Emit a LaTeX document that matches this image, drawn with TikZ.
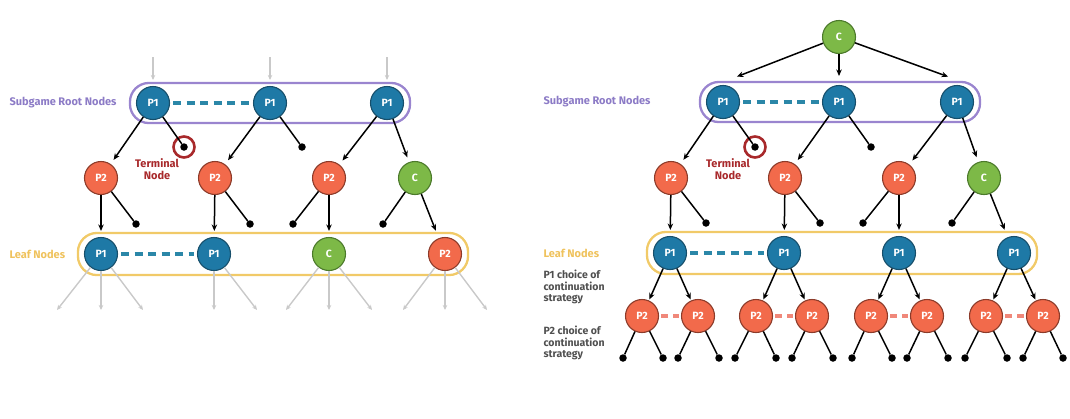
\documentclass[tikz,border=0pt]{standalone}
\usepackage{fontspec}
\setmainfont{Fira Sans}
\usetikzlibrary{arrows.meta,fit,backgrounds}
\definecolor{ponefill}{HTML}{1E79A6}
\definecolor{ponedraw}{HTML}{174F6B}
\definecolor{ptwofill}{HTML}{F26A4B}
\definecolor{ptwodraw}{HTML}{8C3B2A}
\definecolor{chfill}{HTML}{7DB947}
\definecolor{chdraw}{HTML}{4C7A2B}
\definecolor{purp}{HTML}{9A85CF}
\definecolor{purptext}{HTML}{8C7BC6}
\definecolor{yell}{HTML}{F1CA68}
\definecolor{yelltext}{HTML}{EFC25C}
\definecolor{termred}{HTML}{A8292B}
\definecolor{tealdash}{HTML}{2B87A8}
\definecolor{orgdash}{HTML}{F0887A}
\definecolor{greyarr}{HTML}{C9C9C9}
\definecolor{infotext}{HTML}{4F4F4F}
\tikzset{
  gnode/.style={circle, line width=1.1pt, minimum size=33pt, inner sep=0pt, text=white, font=\bfseries\fontsize{10.5}{11}\selectfont},
  pone/.style={gnode, fill=ponefill, draw=ponedraw},
  ptwo/.style={gnode, fill=ptwofill, draw=ptwodraw},
  chance/.style={gnode, fill=chfill, draw=chdraw},
  tdot/.style={circle, fill=black, inner sep=0pt, minimum size=7.5pt},
  termring/.style={circle, draw=termred, line width=2.6pt, minimum size=21pt, inner sep=0pt},
  arr/.style={line width=1.5pt, -{Stealth[length=6.5pt,width=5.5pt]}, shorten >=5pt},
  arrn/.style={line width=1.5pt, -{Stealth[length=6.5pt,width=5.5pt]}, shorten >=1pt},
  lne/.style={line width=1.5pt},
  garr/.style={line width=1.4pt, greyarr, -{Stealth[length=5pt,width=4.5pt]}},
  tdash/.style={line width=3.6pt, tealdash, dash pattern=on 8pt off 5.5pt, shorten <=3pt, shorten >=3pt},
  odash/.style={line width=3.6pt, orgdash, dash pattern=on 7pt off 5pt, shorten <=2pt, shorten >=2pt},
  rootbox/.style={draw=purp, line width=2.3pt, rounded corners=19pt, inner xsep=6pt, inner ysep=3pt},
  leafbox/.style={draw=yell, line width=2.3pt, rounded corners=19pt, inner xsep=6pt, inner ysep=4pt},
  rootlbl/.style={anchor=west, text=purptext, font=\bfseries\fontsize{11}{13}\selectfont},
  leaflbl/.style={anchor=west, text=yelltext, font=\bfseries\fontsize{11}{13}\selectfont},
  termlbl/.style={align=center, text=termred, font=\bfseries\fontsize{11}{11.5}\selectfont},
  infolbl/.style={anchor=west, align=left, text=infotext, font=\bfseries\fontsize{10.5}{11.5}\selectfont}
}
\begin{document}
\begin{tikzpicture}[x=1pt,y=-1pt]
\useasboundingbox (0,0) rectangle (1070,418);

% ================= LEFT =================
\node[pone] (La1) at (153,103) {P1};
\node[pone] (La2) at (270,103) {P1};
\node[pone] (La3) at (387,103) {P1};
\coordinate (Lu1) at (153,57);
\coordinate (Lu2) at (270,57);
\coordinate (Lu3) at (387,57);
\draw[garr, shorten >=6pt] (Lu1) -- (La1);
\draw[garr, shorten >=6pt] (Lu2) -- (La2);
\draw[garr, shorten >=6pt] (Lu3) -- (La3);

\node[ptwo] (Lb1) at (101,178) {P2};
\node[ptwo] (Lb2) at (215,178) {P2};
\node[ptwo] (Lb3) at (329,178) {P2};
\node[chance] (Lb4) at (415,178) {C};
\node[tdot] (Lt1) at (184,147) {};
\node[termring] (Lr) at (184,147) {};
\node[tdot] (Lt2) at (302,147) {};

\node[tdot] (Ld1) at (136,224) {};
\node[tdot] (Ld2) at (250,224) {};
\node[tdot] (Ld3) at (293,224) {};
\node[tdot] (Ld4) at (383,224) {};

\node[pone] (Lc1) at (101,254) {P1};
\node[pone] (Lc2) at (214,254) {P1};
\node[chance] (Lc3) at (329,254) {C};
\node[ptwo] (Lc4) at (445,254) {P2};

\begin{scope}[on background layer]
\node[rootbox, fit=(La1)(La3)] (Lroot) {};
\node[leafbox, fit=(Lc1)(Lc4)] (Lleaf) {};
\end{scope}

\draw[tdash] (La1) -- (La2);
\draw[tdash] (Lc1) -- (Lc2);

\draw[arr] (La1) -- (Lb1);
\draw[lne] (La1) -- (Lt1);
\draw[arr] (La2) -- (Lb2);
\draw[lne] (La2) -- (Lt2);
\draw[arr] (La3) -- (Lb3);
\draw[arr] (La3) -- (Lb4);

\draw[arr, shorten >=6pt] (Lb1) -- (Lc1);
\draw[lne] (Lb1) -- (Ld1);
\draw[arr, shorten >=6pt] (Lb2) -- (Lc2);
\draw[lne] (Lb2) -- (Ld2);
\draw[lne] (Lb3) -- (Ld3);
\draw[arr, shorten >=6pt] (Lb3) -- (Lc3);
\draw[lne] (Lb4) -- (Ld4);
\draw[arr, shorten >=8pt] (Lb4) -- (Lc4);

\coordinate (Lg1) at (57,310);
\coordinate (Lg2) at (101,310);
\coordinate (Lg3) at (143,310);
\coordinate (Lg4) at (214,310);
\coordinate (Lg5) at (257,310);
\coordinate (Lg6) at (286,310);
\coordinate (Lg7) at (329,310);
\coordinate (Lg8) at (372,310);
\coordinate (Lg9) at (403,310);
\coordinate (Lg10) at (445,310);
\coordinate (Lg11) at (487,310);
\draw[garr] (Lc1) -- (Lg1);
\draw[garr] (Lc1) -- (Lg2);
\draw[garr] (Lc1) -- (Lg3);
\draw[garr] (Lc2) -- (Lg4);
\draw[garr] (Lc2) -- (Lg5);
\draw[garr] (Lc3) -- (Lg6);
\draw[garr] (Lc3) -- (Lg7);
\draw[garr] (Lc3) -- (Lg8);
\draw[garr] (Lc4) -- (Lg9);
\draw[garr] (Lc4) -- (Lg10);
\draw[garr] (Lc4) -- (Lg11);

\node[rootlbl] (Llab1) at (6,103) {Subgame Root Nodes};
\node[leaflbl] (Llab2) at (6,254) {Leaf Nodes};
\node[termlbl] (Llab3) at (157,169) {Terminal\\Node};

% ================= RIGHT =================
\node[chance] (Rtop) at (839,37) {C};
\coordinate (Rk1) at (736,77);
\coordinate (Rk2) at (839,77);
\coordinate (Rk3) at (949,77);
\draw[arrn] (Rtop) -- (Rk1);
\draw[arrn] (Rtop) -- (Rk2);
\draw[arrn] (Rtop) -- (Rk3);

\node[pone] (Ra1) at (723,102) {P1};
\node[pone] (Ra2) at (839,102) {P1};
\node[pone] (Ra3) at (957,102) {P1};

\node[tdot] (Rt1) at (755,147) {};
\node[termring] (Rr) at (755,147) {};
\node[tdot] (Rt2) at (871,147) {};

\node[ptwo] (Rb1) at (671,178) {P2};
\node[ptwo] (Rb2) at (785,178) {P2};
\node[ptwo] (Rb3) at (899,178) {P2};
\node[chance] (Rb4) at (984,178) {C};

\node[tdot] (Rd1) at (706,223) {};
\node[tdot] (Rd2) at (820,223) {};
\node[tdot] (Rd3) at (863,223) {};
\node[tdot] (Rd4) at (952,223) {};

\node[pone] (Rc1) at (670,253) {P1};
\node[pone] (Rc2) at (784,253) {P1};
\node[pone] (Rc3) at (899,253) {P1};
\node[pone] (Rc4) at (1014,253) {P1};

\begin{scope}[on background layer]
\node[rootbox, fit=(Ra1)(Ra3)] (Rroot) {};
\node[leafbox, fit=(Rc1)(Rc4)] (Rleaf) {};
\end{scope}

\draw[tdash] (Ra1) -- (Ra2);
\draw[tdash] (Rc1) -- (Rc2);

\draw[arr] (Ra1) -- (Rb1);
\draw[lne] (Ra1) -- (Rt1);
\draw[arr] (Ra2) -- (Rb2);
\draw[lne] (Ra2) -- (Rt2);
\draw[arr] (Ra3) -- (Rb3);
\draw[arr] (Ra3) -- (Rb4);

\draw[arr, shorten >=6pt] (Rb1) -- (Rc1);
\draw[lne] (Rb1) -- (Rd1);
\draw[arr, shorten >=6pt] (Rb2) -- (Rc2);
\draw[lne] (Rb2) -- (Rd2);
\draw[lne] (Rb3) -- (Rd3);
\draw[arr, shorten >=6pt] (Rb3) -- (Rc3);
\draw[lne] (Rb4) -- (Rd4);
\draw[arr, shorten >=8pt] (Rb4) -- (Rc4);

\node[ptwo] (Re1) at (642,316) {P2};
\node[ptwo] (Re2) at (698,316) {P2};
\node[ptwo] (Re3) at (756,316) {P2};
\node[ptwo] (Re4) at (812,316) {P2};
\node[ptwo] (Re5) at (871,316) {P2};
\node[ptwo] (Re6) at (927,316) {P2};
\node[ptwo] (Re7) at (986,316) {P2};
\node[ptwo] (Re8) at (1043,316) {P2};

\draw[odash] (Re1) -- (Re2);
\draw[odash] (Re3) -- (Re4);
\draw[odash] (Re5) -- (Re6);
\draw[odash] (Re7) -- (Re8);

\draw[arrn] (Rc1) -- (Re1);
\draw[arrn] (Rc1) -- (Re2);
\draw[arrn] (Rc2) -- (Re3);
\draw[arrn] (Rc2) -- (Re4);
\draw[arrn] (Rc3) -- (Re5);
\draw[arrn] (Rc3) -- (Re6);
\draw[arrn] (Rc4) -- (Re7);
\draw[arrn] (Rc4) -- (Re8);

\node[tdot] (Rf1) at (623,358) {};
\node[tdot] (Rf2) at (663,358) {};
\node[tdot] (Rf3) at (678,358) {};
\node[tdot] (Rf4) at (719,358) {};
\node[tdot] (Rf5) at (735,358) {};
\node[tdot] (Rf6) at (776,358) {};
\node[tdot] (Rf7) at (792,358) {};
\node[tdot] (Rf8) at (833,358) {};
\node[tdot] (Rf9) at (852,358) {};
\node[tdot] (Rf10) at (892,358) {};
\node[tdot] (Rf11) at (907,358) {};
\node[tdot] (Rf12) at (948,358) {};
\node[tdot] (Rf13) at (965,358) {};
\node[tdot] (Rf14) at (1007,358) {};
\node[tdot] (Rf15) at (1023,358) {};
\node[tdot] (Rf16) at (1063,358) {};
\draw[lne] (Re1) -- (Rf1);
\draw[lne] (Re1) -- (Rf2);
\draw[lne] (Re2) -- (Rf3);
\draw[lne] (Re2) -- (Rf4);
\draw[lne] (Re3) -- (Rf5);
\draw[lne] (Re3) -- (Rf6);
\draw[lne] (Re4) -- (Rf7);
\draw[lne] (Re4) -- (Rf8);
\draw[lne] (Re5) -- (Rf9);
\draw[lne] (Re5) -- (Rf10);
\draw[lne] (Re6) -- (Rf11);
\draw[lne] (Re6) -- (Rf12);
\draw[lne] (Re7) -- (Rf13);
\draw[lne] (Re7) -- (Rf14);
\draw[lne] (Re8) -- (Rf15);
\draw[lne] (Re8) -- (Rf16);

\node[rootlbl] (Rlab1) at (540,102) {Subgame Root Nodes};
\node[leaflbl] (Rlab2) at (540,253) {Leaf Nodes};
\node[termlbl] (Rlab3) at (728,169) {Terminal\\Node};
\node[infolbl] (Rlab4) at (540,287) {P1 choice of\\continuation\\strategy};
\node[infolbl] (Rlab5) at (540,343) {P2 choice of\\continuation\\strategy};
\end{tikzpicture}
\end{document}
